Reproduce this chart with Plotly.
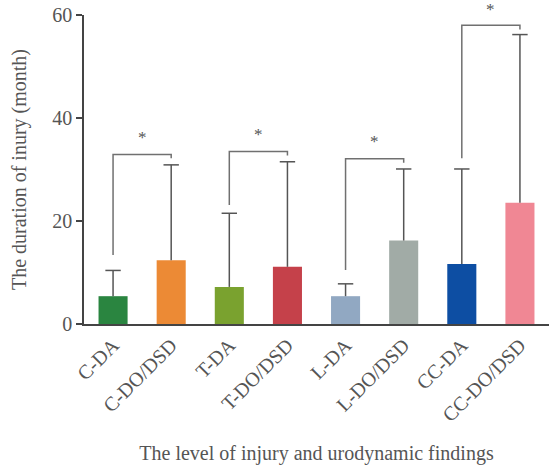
import plotly.graph_objects as go

categories = ["C-DA", "C-DO/DSD", "T-DA", "T-DO/DSD", "L-DA", "L-DO/DSD", "CC-DA", "CC-DO/DSD"]
means = [5.4, 12.4, 7.2, 11.1, 5.4, 16.2, 11.65, 23.55]
sds = [5.0, 18.5, 14.3, 20.4, 2.4, 13.9, 18.45, 32.65]
bar_colors = ["#2a8540", "#ec8a35", "#7aa22f", "#c5414a", "#91a8c2", "#a1aba6", "#0d4ea3", "#f08794"]

# significance brackets: (left index, right index)
pairs = [(0, 1), (2, 3), (4, 5), (6, 7)]
bracket_left_bottom = [13.4, 23.1, 10.5, 32.2]
bracket_top = [32.9, 33.5, 32.1, 58.0]
bracket_right_bottom = [32.2, 32.7, 31.3, 57.2]
star_y = [36.8, 37.3, 36.0, 61.7]

y_ticks = [0, 20, 40, 60]
y_range = [0, 60]

FONT = "Liberation Serif"
TXT = "#555555"
ERR = "#555555"

fig = go.Figure()
x_idx = list(range(len(categories)))
fig.add_trace(go.Bar(
    x=x_idx, y=means, width=0.5,
    marker=dict(color=bar_colors, line=dict(width=0)),
    error_y=dict(type="data", symmetric=False, array=sds, arrayminus=[0] * len(sds),
                 color=ERR, thickness=1.5, width=0),
    showlegend=False, hoverinfo="y",
))
# error bar caps (top end only)
fig.add_trace(go.Scatter(
    x=x_idx, y=[m + s for m, s in zip(means, sds)], mode="markers",
    marker=dict(symbol="line-ew-open", size=11, color=ERR, line=dict(color=ERR, width=1.5)),
    showlegend=False, hoverinfo="skip", cliponaxis=False,
))

for (a, b), lb, top, rb, sy in zip(pairs, bracket_left_bottom, bracket_top, bracket_right_bottom, star_y):
    fig.add_trace(go.Scatter(
        x=[a, a, b, b], y=[lb, top, top, rb], mode="lines",
        line=dict(color="#707070", width=1.5), showlegend=False, hoverinfo="skip",
        cliponaxis=False,
    ))
    fig.add_annotation(x=(a + b) / 2, xref="x",
                       y=(sy - y_range[0]) / (y_range[1] - y_range[0]), yref="paper",
                       text="*", showarrow=False, yshift=-3,
                       font=dict(family=FONT, size=17, color=TXT), yanchor="middle")

fig.update_layout(
    width=549, height=465,
    margin=dict(l=84, r=0, t=15, b=141),
    plot_bgcolor="white", paper_bgcolor="white",
    font=dict(family=FONT, size=20, color=TXT),
)
fig.update_xaxes(
    range=[-0.5, 7.5], tickvals=x_idx, ticktext=categories, tickangle=-45,
    showline=True, linecolor="#444444", linewidth=1.5, ticks="", showgrid=False,
    zeroline=False, tickfont=dict(family=FONT, size=20, color=TXT),
    title=dict(text="The level of injury and urodynamic findings",
               font=dict(family=FONT, size=20, color=TXT), standoff=26),
    automargin=False,
)
fig.update_yaxes(
    range=y_range, tickvals=y_ticks, showline=True, linecolor="#444444", linewidth=1.5,
    ticks="outside", ticklen=6, tickcolor="#444444", tickwidth=1.5,
    showgrid=False, zeroline=False, tickfont=dict(family=FONT, size=20, color=TXT),
    title=dict(text="The duration of inury (month)",
               font=dict(family=FONT, size=20, color=TXT), standoff=20),
    automargin=False,
)

fig.write_html("out.html")
